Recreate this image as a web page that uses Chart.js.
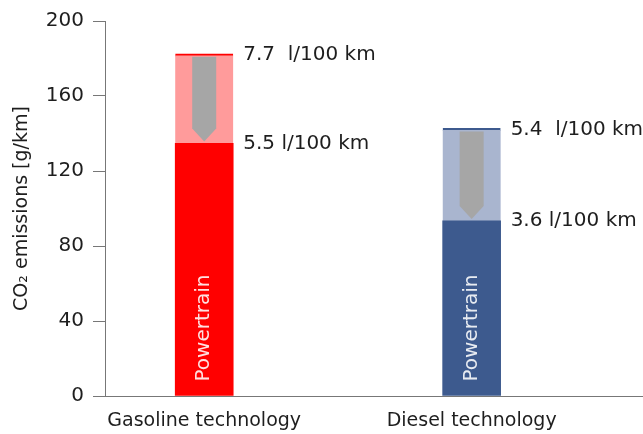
<!DOCTYPE html>
<html>
<head>
<meta charset="utf-8">
<script src="https://cdn.jsdelivr.net/npm/chart.js@4/dist/chart.umd.min.js"></script>
<style>
html,body{margin:0;padding:0;background:#fff;}
canvas{display:block;}
</style>
</head>
<body>
<canvas id="c" width="643" height="434"></canvas>
<script>
const categories = ['Gasoline technology', 'Diesel technology'];
const powertrainValues = [134.7, 93.4];      // CO2 after improvement (g/km)
const currentValues = [182.5, 142.7];        // CO2 today (g/km)
const topLabels = ['7.7  l/100 km', '5.4  l/100 km'];
const baseLabels = ['5.5 l/100 km', '3.6 l/100 km'];
const barText = 'Powertrain';
const yTicks = [0, 40, 80, 120, 160, 200];
const darkColors = ['#ff0000', '#3d5a8e'];
const lightColors = ['#ff9b9b', '#a9b5cf'];
const arrowColor = '#a6a6a6';
const FONT = 'DejaVu Sans';
const TEXT = '#1e1e1e';
const AXIS = '#777777';

const overlay = {
  id: 'overlay',
  afterDatasetsDraw(chart) {
    const ctx = chart.ctx;
    const base = chart.getDatasetMeta(0).data;
    const top = chart.getDatasetMeta(1).data;
    categories.forEach((c, i) => {
      const b = base[i], t = top[i];
      const cx = b.x;
      const yTop = t.y, yBase = b.y, yZero = b.base;
      const hw = 12;
      const tip = yBase - 2;
      const shaftEnd = tip - 13;
      ctx.save();
      ctx.fillStyle = arrowColor;
      ctx.beginPath();
      ctx.moveTo(cx - hw, yTop + 3);
      ctx.lineTo(cx + hw, yTop + 3);
      ctx.lineTo(cx + hw, shaftEnd);
      ctx.lineTo(cx, tip);
      ctx.lineTo(cx - hw, shaftEnd);
      ctx.closePath();
      ctx.fill();
      ctx.fillStyle = TEXT;
      ctx.font = '20px "' + FONT + '"';
      ctx.textBaseline = 'middle';
      ctx.textAlign = 'left';
      const lx = cx + b.width / 2 + 10;
      ctx.fillText(topLabels[i], lx, yTop + 1);
      ctx.fillText(baseLabels[i], lx, yBase);
      ctx.translate(cx, yZero - 14);
      ctx.rotate(-Math.PI / 2);
      ctx.fillStyle = 'rgba(255,255,255,0.88)';
      ctx.fillText(barText, 0, 0);
      ctx.restore();
    });
  }
};

new Chart(document.getElementById('c'), {
  type: 'bar',
  data: {
    datasets: [
      {
        label: 'Powertrain',
        data: categories.map((c, i) => ({ x: i, y: powertrainValues[i] })),
        backgroundColor: darkColors,
        borderWidth: 0,
        barThickness: 58
      },
      {
        label: 'Current',
        data: categories.map((c, i) => ({ x: i, y: currentValues[i] - powertrainValues[i] })),
        backgroundColor: lightColors,
        borderColor: darkColors,
        borderWidth: { top: 2, left: 0, right: 0, bottom: 0 },
        borderSkipped: 'start',
        barThickness: 58
      }
    ]
  },
  options: {
    responsive: false,
    animation: false,
    layout: { padding: { top: 18, right: 1, left: 0, bottom: 0 } },
    plugins: { legend: { display: false }, tooltip: { enabled: false } },
    scales: {
      x: {
        type: 'linear',
        stacked: true,
        offset: false,
        min: -0.371,
        max: 1.637,
        grid: { display: false, drawTicks: false, offset: false },
        border: { color: AXIS, width: 1 },
        afterBuildTicks: s => { s.ticks = categories.map((c, i) => ({ value: i })); },
        afterFit: s => { s.height = 38; },
        ticks: {
          autoSkip: false,
          maxRotation: 0,
          padding: 14,
          color: TEXT,
          font: { family: FONT, size: 19 },
          callback: v => categories[v]
        }
      },
      y: {
        stacked: true,
        min: 0,
        max: 200,
        afterBuildTicks: s => { s.ticks = yTicks.map(v => ({ value: v })); },
        afterFit: s => { s.width = 105; },
        grid: { drawOnChartArea: false, tickLength: 12, color: AXIS },
        border: { color: AXIS, width: 1 },
        ticks: {
          padding: 9,
          color: TEXT,
          font: { family: FONT, size: 20 }
        },
        title: {
          display: true,
          text: 'CO₂ emissions [g/km]',
          color: TEXT,
          font: { family: FONT, size: 19 },
          padding: { top: 11, bottom: 0 }
        }
      }
    }
  },
  plugins: [overlay]
});
</script>
</body>
</html>
